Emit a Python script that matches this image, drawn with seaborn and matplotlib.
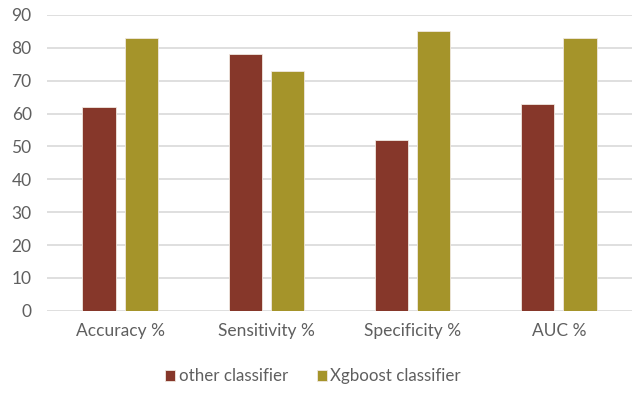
import numpy as np
import pandas as pd
import matplotlib
matplotlib.use("Agg")
import matplotlib.pyplot as plt
import seaborn as sns

metrics = ["Accuracy %", "Sensitivity %", "Specificity %", "AUC %"]
other_clf = [62, 78, 52, 63]
xgb_clf = [83, 73, 85, 83]
series_names = ["other classifier", "Xgboost classifier"]
colors = ["#86372A", "#A5942A"]

df = pd.DataFrame({
    "metric": metrics * 2,
    "value": other_clf + xgb_clf,
    "model": [series_names[0]] * 4 + [series_names[1]] * 4,
})

sns.set_style("white")
plt.rcParams["font.family"] = ["Lato", "DejaVu Sans"]
text_col = "#5f5f5f"

fig = plt.figure(figsize=(6.34, 3.94), dpi=100)
ax = fig.add_axes([0.074, 0.211, 0.923, 0.751])

sns.barplot(data=df, x="metric", y="value", hue="model", palette=colors,
            width=0.576, gap=0.215, saturation=1, ax=ax,
            edgecolor="#f0e8e0", linewidth=0.6, legend=True)

ax.set_ylim(0, 90)
ax.set_yticks(np.arange(0, 91, 10))
ax.set_xlim(-0.5, 3.5)
ax.yaxis.grid(True, color="#D9D9D9", linewidth=1.2)
ax.set_axisbelow(True)
for s in ax.spines.values():
    s.set_visible(False)
ax.tick_params(axis="both", length=0, colors=text_col, labelsize=12.5)
ax.tick_params(axis="x", pad=9)
ax.tick_params(axis="y", pad=11)
ax.set_xlabel("")
ax.set_ylabel("")

handles, labels = ax.get_legend_handles_labels()
ax.legend(handles, labels, loc="lower center", bbox_to_anchor=(0.455, -0.3),
          ncol=2, frameon=False, fontsize=12.2, labelcolor=text_col,
          handlelength=0.6, handleheight=0.7, handletextpad=0.2, columnspacing=1.7)

fig.savefig("out.png", dpi=100)
